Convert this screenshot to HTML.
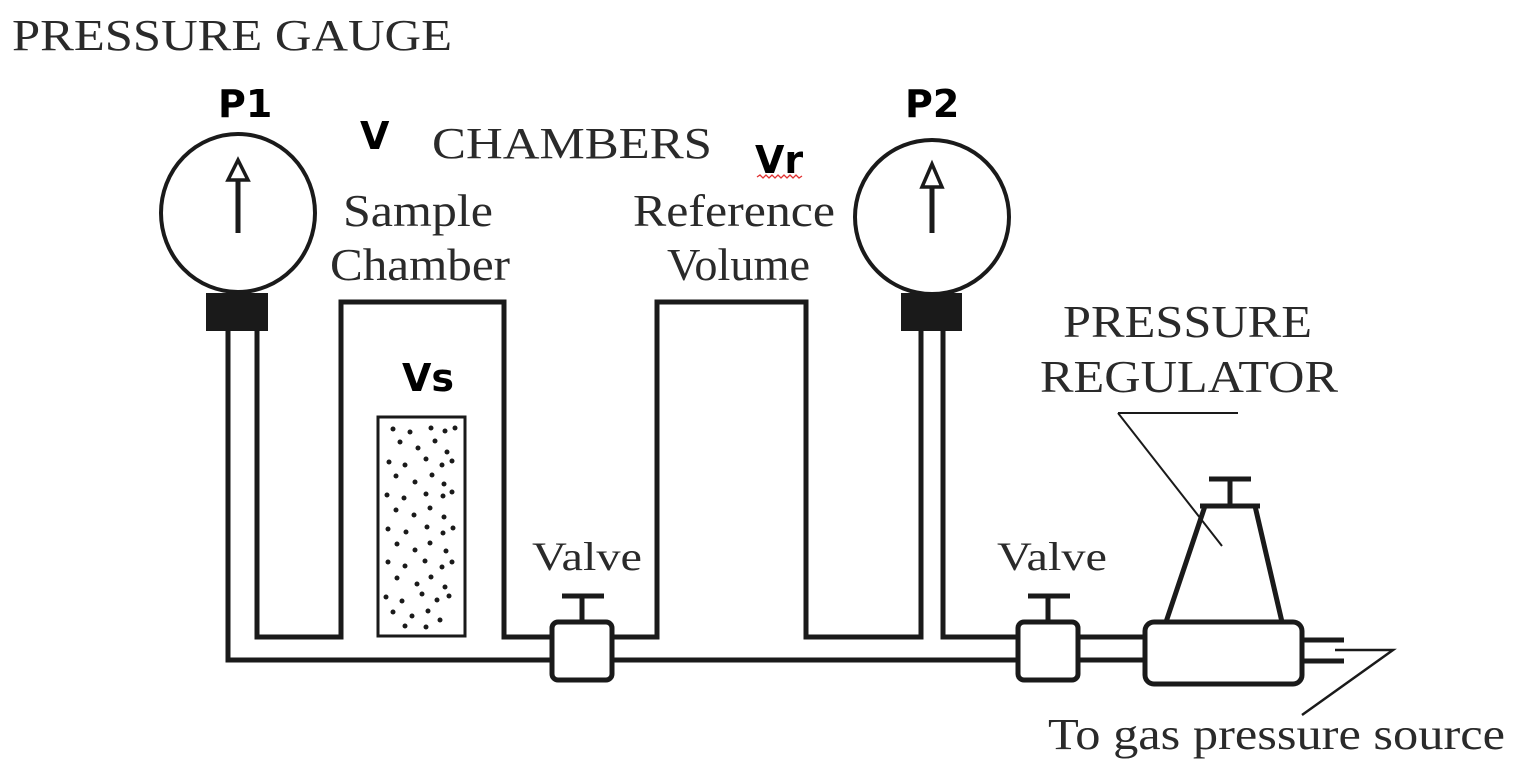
<!DOCTYPE html>
<html><head><meta charset="utf-8"><style>
html,body{margin:0;padding:0;background:#fff;}
svg{display:block;}
.serif{font-family:"Liberation Serif",serif;fill:#2a2a2a;}
.bold{font-family:"DejaVu Sans","Liberation Sans",sans-serif;font-weight:bold;fill:#000;}
</style></head><body>
<svg width="1520" height="780" viewBox="0 0 1520 780" xmlns="http://www.w3.org/2000/svg">
<g stroke="#1a1a1a" stroke-width="5" fill="none" stroke-linejoin="miter">
  <ellipse cx="238" cy="213" rx="77" ry="79" stroke-width="4"/>
  <rect x="206" y="293" width="62" height="38" fill="#1a1a1a" stroke="none"/>
  <line x1="238" y1="180" x2="238" y2="233"/>
  <polygon points="238,160 228,180 248,180" stroke-width="3.5" fill="#fff"/>
  <ellipse cx="932" cy="217" rx="77" ry="77" stroke-width="4"/>
  <rect x="901" y="293" width="61" height="38" fill="#1a1a1a" stroke="none"/>
  <line x1="932" y1="187" x2="932" y2="233"/>
  <polygon points="932,164 922,187 942,187" stroke-width="3.5" fill="#fff"/>
  <polyline points="228,331 228,660 552,660"/>
  <polyline points="257,331 257,637 341,637 341,302 504,302 504,637 552,637"/>
  <polyline points="612,637 657,637 657,302 806,302 806,637 921,637 921,331"/>
  <polyline points="943,331 943,637 1018,637"/>
  <line x1="612" y1="660" x2="1018" y2="660"/>
  <rect x="552" y="622" width="60" height="58" rx="6"/>
  <line x1="582" y1="622" x2="582" y2="596"/>
  <line x1="562" y1="596" x2="604" y2="596"/>
  <rect x="1018" y="622" width="60" height="58" rx="6"/>
  <line x1="1048" y1="622" x2="1048" y2="596"/>
  <line x1="1028" y1="596" x2="1070" y2="596"/>
  <line x1="1078" y1="637" x2="1145" y2="637"/>
  <line x1="1078" y1="660" x2="1145" y2="660"/>
  <rect x="1145" y="622" width="157" height="62" rx="9"/>
  <polyline points="1166,622 1205,506 1255,506 1282,622"/>
  <line x1="1200" y1="506" x2="1260" y2="506"/>
  <line x1="1230" y1="506" x2="1230" y2="479"/>
  <line x1="1209" y1="479" x2="1251" y2="479"/>
  <line x1="1302" y1="640" x2="1344" y2="640"/>
  <line x1="1302" y1="661" x2="1344" y2="661"/>
  <rect x="378" y="417" width="87" height="219" stroke-width="3"/>
  <polyline points="1118,413 1238,413" stroke-width="2"/>
  <polyline points="1118,413 1222,546" stroke-width="2"/>
  <polyline points="1335,650 1393,650 1302,715" stroke-width="2.5"/>
</g>
<g fill="#1a1a1a">
<circle cx="393" cy="429" r="2.5"/><circle cx="410" cy="432" r="2.5"/><circle cx="431" cy="428" r="2.5"/><circle cx="445" cy="431" r="2.5"/><circle cx="455" cy="428" r="2.5"/>
<circle cx="400" cy="442" r="2.5"/><circle cx="418" cy="448" r="2.5"/><circle cx="435" cy="441" r="2.5"/><circle cx="447" cy="452" r="2.5"/>
<circle cx="389" cy="462" r="2.5"/><circle cx="405" cy="465" r="2.5"/><circle cx="426" cy="459" r="2.5"/><circle cx="442" cy="465" r="2.5"/><circle cx="452" cy="461" r="2.5"/>
<circle cx="396" cy="476" r="2.5"/><circle cx="415" cy="482" r="2.5"/><circle cx="432" cy="475" r="2.5"/><circle cx="444" cy="484" r="2.5"/>
<circle cx="387" cy="495" r="2.5"/><circle cx="404" cy="498" r="2.5"/><circle cx="426" cy="494" r="2.5"/><circle cx="443" cy="496" r="2.5"/><circle cx="452" cy="492" r="2.5"/>
<circle cx="396" cy="510" r="2.5"/><circle cx="414" cy="515" r="2.5"/><circle cx="430" cy="508" r="2.5"/><circle cx="444" cy="517" r="2.5"/>
<circle cx="388" cy="529" r="2.5"/><circle cx="406" cy="532" r="2.5"/><circle cx="427" cy="527" r="2.5"/><circle cx="443" cy="533" r="2.5"/><circle cx="453" cy="528" r="2.5"/>
<circle cx="397" cy="544" r="2.5"/><circle cx="415" cy="550" r="2.5"/><circle cx="430" cy="543" r="2.5"/><circle cx="446" cy="551" r="2.5"/>
<circle cx="388" cy="562" r="2.5"/><circle cx="405" cy="566" r="2.5"/><circle cx="425" cy="561" r="2.5"/><circle cx="442" cy="567" r="2.5"/><circle cx="452" cy="562" r="2.5"/>
<circle cx="397" cy="578" r="2.5"/><circle cx="417" cy="584" r="2.5"/><circle cx="431" cy="577" r="2.5"/><circle cx="445" cy="587" r="2.5"/>
<circle cx="386" cy="597" r="2.5"/><circle cx="402" cy="601" r="2.5"/><circle cx="422" cy="594" r="2.5"/><circle cx="437" cy="600" r="2.5"/><circle cx="449" cy="596" r="2.5"/>
<circle cx="393" cy="612" r="2.5"/><circle cx="412" cy="616" r="2.5"/><circle cx="428" cy="611" r="2.5"/><circle cx="440" cy="620" r="2.5"/><circle cx="405" cy="626" r="2.5"/><circle cx="426" cy="627" r="2.5"/>
</g>
<text class="serif" x="12" y="50" font-size="44" textLength="440" lengthAdjust="spacingAndGlyphs">PRESSURE GAUGE</text>
<text class="serif" x="432" y="158" font-size="44" textLength="280" lengthAdjust="spacingAndGlyphs">CHAMBERS</text>
<text class="serif" x="343" y="226" font-size="46" textLength="150" lengthAdjust="spacingAndGlyphs">Sample</text>
<text class="serif" x="330" y="280" font-size="46" textLength="180" lengthAdjust="spacingAndGlyphs">Chamber</text>
<text class="serif" x="633" y="226" font-size="46" textLength="202" lengthAdjust="spacingAndGlyphs">Reference</text>
<text class="serif" x="667" y="280" font-size="46" textLength="143" lengthAdjust="spacingAndGlyphs">Volume</text>
<text class="serif" x="532" y="570" font-size="40" textLength="110" lengthAdjust="spacingAndGlyphs">Valve</text>
<text class="serif" x="997" y="570" font-size="40" textLength="110" lengthAdjust="spacingAndGlyphs">Valve</text>
<text class="serif" x="1063" y="337" font-size="46" textLength="249" lengthAdjust="spacingAndGlyphs">PRESSURE</text>
<text class="serif" x="1040" y="392" font-size="46" textLength="298" lengthAdjust="spacingAndGlyphs">REGULATOR</text>
<text class="serif" x="1048" y="749" font-size="44" textLength="457" lengthAdjust="spacingAndGlyphs">To gas pressure source</text>
<text class="bold" x="218" y="117" font-size="38">P1</text>
<text class="bold" x="360" y="149" font-size="38">V</text>
<text class="bold" x="755" y="173" font-size="38">Vr</text>
<text class="bold" x="905" y="117" font-size="38">P2</text>
<text class="bold" x="402" y="391" font-size="38">Vs</text>
<polyline points="757,177 760,175 763,178 766,175 769,178 772,175 775,178 778,175 781,178 784,175 787,178 790,175 793,178 796,175 799,178 802,176" fill="none" stroke="#e03030" stroke-width="1.3"/>
</svg>
</body></html>
